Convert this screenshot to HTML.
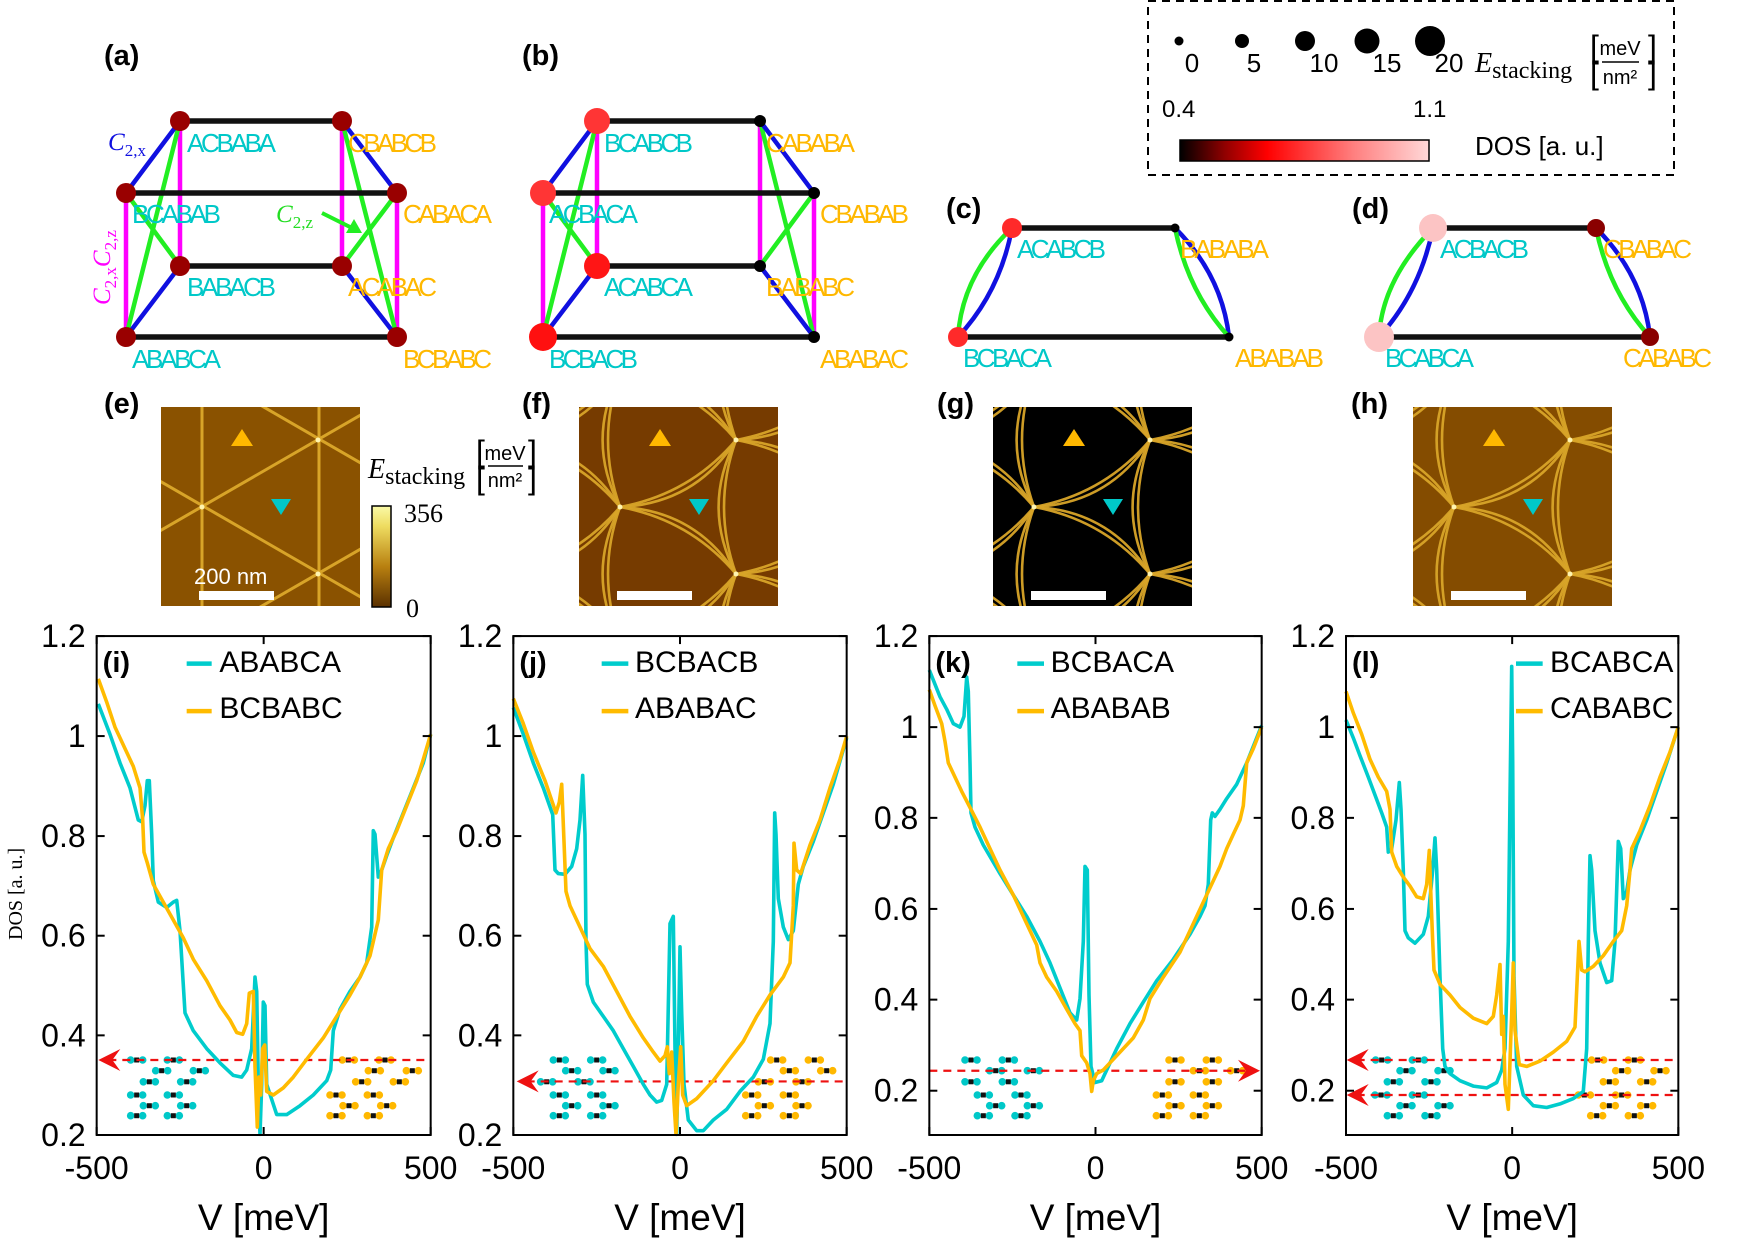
<!DOCTYPE html>
<html><head><meta charset="utf-8"><style>
html,body{margin:0;padding:0;background:#fff;}
svg{display:block;}
text{font-family:"Liberation Sans",sans-serif;}
.lab{font-size:26px;}
.cy{fill:#00c8c8;}
.or{fill:#ffb800;}
.pl{font-weight:bold;font-size:29px;}
.ser{font-family:"Liberation Serif",serif;}
</style></head><body>
<svg id="s" xmlns="http://www.w3.org/2000/svg" width="1750" height="1238" viewBox="0 0 1750 1238">
<defs>
<linearGradient id="gdos" x1="0" x2="1" y1="0" y2="0">
<stop offset="0" stop-color="#000"/><stop offset="0.18" stop-color="#900000"/><stop offset="0.35" stop-color="#ff0000"/><stop offset="0.7" stop-color="#ff8080"/><stop offset="1" stop-color="#ffd8d8"/></linearGradient>
<linearGradient id="gst" x1="0" x2="0" y1="1" y2="0">
<stop offset="0" stop-color="#5a3000"/><stop offset="0.4" stop-color="#b88010"/><stop offset="0.8" stop-color="#eedc60"/><stop offset="1" stop-color="#fafaa8"/></linearGradient>
</defs>
<g id="top" stroke-linecap="round">
<g stroke-width="4.5">
<line x1="180" y1="121" x2="180" y2="266" stroke="#ff00ff"/><line x1="126" y1="193" x2="126" y2="337" stroke="#ff00ff"/>
<line x1="342" y1="121" x2="342" y2="266" stroke="#ff00ff"/><line x1="397" y1="193" x2="397" y2="337" stroke="#ff00ff"/>
<line x1="180" y1="121" x2="126" y2="337" stroke="#22ee22"/><line x1="126" y1="193" x2="180" y2="266" stroke="#22ee22"/>
<line x1="342" y1="121" x2="397" y2="337" stroke="#22ee22"/><line x1="397" y1="193" x2="342" y2="266" stroke="#22ee22"/>
<line x1="126" y1="193" x2="180" y2="121" stroke="#1010e0"/><line x1="126" y1="337" x2="180" y2="266" stroke="#1010e0"/>
<line x1="342" y1="121" x2="397" y2="193" stroke="#1010e0"/><line x1="342" y1="266" x2="397" y2="337" stroke="#1010e0"/>
<g stroke="#111" stroke-width="5.5"><line x1="180" y1="121" x2="342" y2="121"/><line x1="126" y1="193" x2="397" y2="193"/><line x1="180" y1="266" x2="342" y2="266"/><line x1="126" y1="337" x2="397" y2="337"/></g>
</g>
<g fill="#990000"><circle cx="180" cy="121" r="10"/><circle cx="342" cy="121" r="10"/><circle cx="126" cy="193" r="10"/><circle cx="397" cy="193" r="10"/><circle cx="180" cy="266" r="10"/><circle cx="342" cy="266" r="10"/><circle cx="126" cy="337" r="10"/><circle cx="397" cy="337" r="10"/></g>
<g stroke-width="4.5">
<line x1="597" y1="121" x2="597" y2="266" stroke="#ff00ff"/><line x1="543" y1="193" x2="543" y2="337" stroke="#ff00ff"/>
<line x1="760" y1="121" x2="760" y2="266" stroke="#ff00ff"/><line x1="814" y1="193" x2="814" y2="337" stroke="#ff00ff"/>
<line x1="597" y1="121" x2="543" y2="337" stroke="#22ee22"/><line x1="543" y1="193" x2="597" y2="266" stroke="#22ee22"/>
<line x1="760" y1="121" x2="814" y2="337" stroke="#22ee22"/><line x1="814" y1="193" x2="760" y2="266" stroke="#22ee22"/>
<line x1="543" y1="193" x2="597" y2="121" stroke="#1010e0"/><line x1="543" y1="337" x2="597" y2="266" stroke="#1010e0"/>
<line x1="760" y1="121" x2="814" y2="193" stroke="#1010e0"/><line x1="760" y1="266" x2="814" y2="337" stroke="#1010e0"/>
<g stroke="#111" stroke-width="5.5"><line x1="597" y1="121" x2="760" y2="121"/><line x1="543" y1="193" x2="814" y2="193"/><line x1="597" y1="266" x2="760" y2="266"/><line x1="543" y1="337" x2="814" y2="337"/></g>
</g>
<circle cx="597" cy="121" r="13" fill="#ff3535"/><circle cx="543" cy="193" r="13" fill="#ff3535"/><circle cx="597" cy="266" r="13" fill="#ff1515"/><circle cx="543" cy="337" r="14" fill="#ff1010"/>
<g fill="#000"><circle cx="760" cy="121" r="6"/><circle cx="814" cy="193" r="6"/><circle cx="760" cy="266" r="6"/><circle cx="814" cy="337" r="6"/></g>
<g fill="none" stroke-width="4.5">
<path d="M1012 228 Q962 275 958 337" stroke="#22ee22"/><path d="M1012 228 Q1000 292 958 337" stroke="#1010e0"/>
<path d="M1175 228 Q1222 275 1229 337" stroke="#1010e0"/><path d="M1175 228 Q1188 292 1229 337" stroke="#22ee22"/>
<line x1="1012" y1="228" x2="1175" y2="228" stroke="#111" stroke-width="5.5"/><line x1="958" y1="337" x2="1229" y2="337" stroke="#111" stroke-width="5.5"/>
<path d="M1433 228 Q1382 280 1379 337" stroke="#22ee22"/><path d="M1433 228 Q1420 292 1379 337" stroke="#1010e0"/>
<path d="M1596 228 Q1643 275 1650 337" stroke="#1010e0"/><path d="M1596 228 Q1609 292 1650 337" stroke="#22ee22"/>
<line x1="1433" y1="228" x2="1596" y2="228" stroke="#111" stroke-width="5.5"/><line x1="1379" y1="337" x2="1650" y2="337" stroke="#111" stroke-width="5.5"/>
</g>
<circle cx="1012" cy="228" r="10" fill="#ff2a2a"/><circle cx="958" cy="337" r="10" fill="#ff2a2a"/><circle cx="1175" cy="228" r="4.5" fill="#000"/><circle cx="1229" cy="337" r="4.5" fill="#000"/>
<circle cx="1433" cy="228" r="14" fill="#fcc4c4"/><circle cx="1379" cy="337" r="15" fill="#fcc4c4"/><circle cx="1596" cy="228" r="9" fill="#8a0000"/><circle cx="1650" cy="337" r="9" fill="#8a0000"/>
</g>
<g class="lab">
<text class="cy" x="187" y="152" textLength="89">ACBABA</text><text class="cy" x="132" y="223" textLength="89">BCABAB</text>
<text class="cy" x="187" y="296" textLength="89">BABACB</text><text class="cy" x="132" y="368" textLength="89">ABABCA</text>
<text class="or" x="348" y="152" textLength="89">CBABCB</text><text class="or" x="403" y="223" textLength="89">CABACA</text>
<text class="or" x="348" y="296" textLength="89">ACABAC</text><text class="or" x="403" y="368" textLength="89">BCBABC</text>
<text class="cy" x="604" y="152" textLength="89">BCABCB</text><text class="cy" x="549" y="223" textLength="89">ACBACA</text>
<text class="cy" x="604" y="296" textLength="89">ACABCA</text><text class="cy" x="549" y="368" textLength="89">BCBACB</text>
<text class="or" x="766" y="152" textLength="89">CABABA</text><text class="or" x="820" y="223" textLength="89">CBABAB</text>
<text class="or" x="766" y="296" textLength="89">BABABC</text><text class="or" x="820" y="368" textLength="89">ABABAC</text>
<text class="cy" x="1017" y="258" textLength="89">ACABCB</text><text class="or" x="1180" y="258" textLength="89">BABABA</text>
<text class="cy" x="963" y="367" textLength="89">BCBACA</text><text class="or" x="1235" y="367" textLength="89">ABABAB</text>
<text class="cy" x="1440" y="258" textLength="89">ACBACB</text><text class="or" x="1603" y="258" textLength="89">CBABAC</text>
<text class="cy" x="1385" y="367" textLength="89">BCABCA</text><text class="or" x="1623" y="367" textLength="89">CABABC</text>
</g>
<g class="pl">
<text x="104" y="65">(a)</text><text x="522" y="65">(b)</text><text x="946" y="218">(c)</text><text x="1352" y="218">(d)</text>
<text x="104" y="413">(e)</text><text x="522" y="413">(f)</text><text x="937" y="413">(g)</text><text x="1351" y="413">(h)</text>
</g>
<text class="ser" x="108" y="150" font-size="25" font-style="italic" fill="#1010e0">C<tspan font-size="17" font-style="normal" dy="6">2,x</tspan></text>
<text class="ser" x="276" y="222" font-size="25" font-style="italic" fill="#22dd22">C<tspan font-size="17" font-style="normal" dy="6">2,z</tspan></text>
<line x1="322" y1="213" x2="352" y2="228" stroke="#22ee22" stroke-width="4"/><polygon points="362,233 346,233 354,219" fill="#22ee22"/>
<text class="ser" transform="translate(110,305) rotate(-90)" font-size="25" font-style="italic" fill="#ff00ff">C<tspan font-size="17" font-style="normal" dy="6">2,x</tspan><tspan dy="-6">C</tspan><tspan font-size="17" font-style="normal" dy="6">2,z</tspan></text>
<rect x="1148" y="1" width="526" height="174" fill="none" stroke="#000" stroke-width="2" stroke-dasharray="8,6"/>
<g fill="#000"><circle cx="1179" cy="41" r="4.5"/><circle cx="1242" cy="41" r="7"/><circle cx="1305" cy="41" r="10"/><circle cx="1367" cy="41" r="12.5"/><circle cx="1430" cy="41" r="15"/></g>
<g class="ser" font-size="26" text-anchor="middle"><text x="1192" y="72">0</text><text x="1254" y="72">5</text><text x="1324" y="72">10</text><text x="1387" y="72">15</text><text x="1449" y="72">20</text></g>
<text class="ser" x="1475" y="72" font-size="28" font-style="italic">E<tspan font-size="24" font-style="normal" dy="6">stacking</tspan></text>
<g class="ser"><text x="1590" y="58" font-size="32">[</text><text x="1648" y="58" font-size="32">]</text><text x="1620" y="55" font-size="20" text-anchor="middle">meV</text><line x1="1602" y1="62" x2="1639" y2="62" stroke="#000" stroke-width="1.5"/><text x="1620" y="84" font-size="20" text-anchor="middle">nm²</text><text x="1590" y="84" font-size="32">[</text><text x="1648" y="84" font-size="32">]</text></g>
<g class="ser" font-size="24"><text x="1162" y="117">0.4</text><text x="1413" y="117">1.1</text><text x="1475" y="155" font-size="26">DOS [a. u.]</text></g>
<rect x="1180" y="140" width="249" height="21" fill="url(#gdos)" stroke="#000" stroke-width="1.5"/>
<g id="imgs"></g>
<rect x="372" y="506" width="19" height="101" fill="url(#gst)" stroke="#000" stroke-width="1.5"/>
<text class="ser" x="404" y="522" font-size="26">356</text><text class="ser" x="406" y="617" font-size="26">0</text>
<text class="ser" x="368" y="478" font-size="28" font-style="italic">E<tspan font-size="24" font-style="normal" dy="6">stacking</tspan></text>
<g class="ser"><text x="476" y="463" font-size="32">[</text><text x="528" y="463" font-size="32">]</text><text x="505" y="460" font-size="20" text-anchor="middle">meV</text><line x1="488" y1="466" x2="523" y2="466" stroke="#000" stroke-width="1.5"/><text x="505" y="487" font-size="20" text-anchor="middle">nm²</text><text x="476" y="489" font-size="32">[</text><text x="528" y="489" font-size="32">]</text></g>
<g id="plots"></g>
<text class="ser" transform="translate(22,940) rotate(-90)" font-size="20">DOS [a. u.]</text>
</svg>
<script>
const NS='http://www.w3.org/2000/svg';
function el(t,a,p){const e=document.createElementNS(NS,t);for(const k in a)e.setAttribute(k,a[k]);(p||document.getElementById('s')).appendChild(e);return e;}
const imgs=document.getElementById('imgs');
const IM=[{x:161,bg:'#8a5200',t:'s'},{x:579,bg:'#763b00',t:'c'},{x:993,bg:'#000',t:'c'},{x:1413,bg:'#844c00',t:'c'}];
IM.forEach((m,idx)=>{
 const g=el('g',{transform:`translate(${m.x},407)`},imgs);
 const cid='clip'+idx;const cp=el('clipPath',{id:cid},g);el('rect',{x:0,y:0,width:199,height:199},cp);
 const gg=el('g',{'clip-path':`url(#${cid})`},g);
 el('rect',{x:0,y:0,width:199,height:199,fill:m.bg},gg);
 const lc='#d8a428';
 const nodes=[];
 for(let i=-2;i<=3;i++)for(let j=-2;j<=3;j++){nodes.push([41+116*i,100+134*j-67*i]);}
 if(m.t==='s'){
  [41,158].forEach(x=>el('line',{x1:x,y1:-10,x2:x,y2:210,stroke:lc,'stroke-width':3},gg));
  for(let k=-3;k<=3;k++){
   const y0=99+134*k;
   el('line',{x1:-50,y1:y0+0.577*(-50-42),x2:250,y2:y0+0.577*(250-42),stroke:lc,'stroke-width':3},gg);
   el('line',{x1:-50,y1:y0-0.577*(-50-42),x2:250,y2:y0-0.577*(250-42),stroke:lc,'stroke-width':3},gg);
  }
 } else {
  nodes.forEach(L=>{
   const A=[L[0]+116,L[1]-67],B=[L[0]+116,L[1]+67];
   const C=[(L[0]+A[0]+B[0])/3,(L[1]+A[1]+B[1])/3];
   [[L,A],[A,B],[B,L]].forEach(([P,Q])=>{
    const M=[(P[0]+Q[0])/2,(P[1]+Q[1])/2];
    [0.62,0.9].forEach(f=>{
     const c=[M[0]+f*(C[0]-M[0]),M[1]+f*(C[1]-M[1])];
     el('path',{d:`M${P[0]} ${P[1]} Q${c[0]} ${c[1]} ${Q[0]} ${Q[1]}`,fill:'none',stroke:lc,'stroke-width':2.6,opacity:0.95},gg);
    });
   });
  });
 }
 nodes.forEach(n=>el('circle',{cx:n[0],cy:n[1],r:2.5,fill:'#fff4b0'},gg));
 el('polygon',{points:'70,39 81,22 92,39',fill:'#ffb800'},gg);
 el('polygon',{points:'110,92 130,92 120,108',fill:'#00c8c8'},gg);
 el('rect',{x:38,y:184,width:75,height:9,fill:'#fff'},gg);
 if(idx===0){const t=el('text',{x:33,y:177,'font-size':22,fill:'#fff'},gg);t.textContent='200 nm';}
});
const P=document.getElementById('plots');
const OY=620, YS=2.8;
const plots=[
{ox:60,a0:110,a1:1112,tk:[45,325,605,884,1163,1442],tl:['1.2','1','0.8','0.6','0.4','0.2'],lab:'(i)',names:['ABABCA','BCBABC'],lx:[380,455,478],
cy:[[115,235],[150,320],[180,400],[210,470],[235,560],[245,565],[255,520],[262,450],[268,450],[275,600],[280,730],[295,790],[320,805],[340,790],[350,785],[360,870],[375,1100],[400,1150],[440,1200],[480,1240],[520,1275],[545,1280],[560,1260],[575,1200],[585,1000],[590,1040],[595,1300],[600,1440],[605,1300],[610,1070],[615,1080],[620,1300],[650,1385],[680,1385],[720,1360],[760,1330],[800,1290],[812,1260],[820,1150],[840,1090],[870,1040],[900,1000],[920,960],[935,860],[940,590],[945,600],[955,720],[965,700],[980,660],[1000,610],[1030,540],[1060,470],[1090,400],[1112,320]],
or:[[115,165],[140,230],[165,300],[195,360],[220,410],[240,470],[248,560],[252,650],[262,680],[280,740],[310,790],[340,840],[370,890],[400,950],[440,1010],[480,1080],[510,1120],[530,1155],[548,1160],[560,1130],[568,1045],[580,1040],[585,1250],[592,1420],[597,1280],[602,1330],[608,1200],[614,1190],[620,1320],[640,1330],[670,1310],[700,1280],[740,1230],[790,1170],[830,1110],[870,1050],[900,1000],[930,940],[955,840],[965,700],[985,640],[1010,590],[1040,520],[1070,450],[1090,390],[1112,320]],
dash:[[1232,115,1105,-1]],
mc:[[1232,[230,340]],[1262,[305,418]],[1293,[268,380]],[1330,[230,340]],[1360,[268,380]],[1388,[230,340]]],
mo:[[1232,[865,975]],[1262,[943,1057]],[1293,[905,1018]],[1330,[828,940]],[1360,[867,980]],[1388,[828,940]]]},
{ox:480,a0:100,a1:1100,tk:[45,325,605,884,1163,1442],tl:['1.2','1','0.8','0.6','0.4','0.2'],lab:'(j)',names:['BCBACB','ABABAC'],lx:[365,445,465],
cy:[[100,245],[130,320],[160,400],[190,470],[218,545],[225,700],[235,710],[255,712],[275,690],[290,640],[300,560],[308,435],[315,600],[318,900],[322,1020],[340,1070],[370,1110],[400,1150],[430,1200],[460,1250],[490,1300],[510,1330],[530,1350],[545,1345],[560,1300],[570,850],[580,830],[585,1200],[590,1440],[595,1200],[600,915],[605,1100],[612,1300],[625,1400],[650,1430],[670,1430],[700,1400],[740,1370],[780,1320],[820,1280],[850,1230],[870,1130],[880,900],[884,540],[888,600],[895,780],[910,860],[925,895],[940,870],[955,740],[970,690],[1000,620],[1030,540],[1060,460],[1100,330]],
or:[[100,220],[130,290],[160,370],[195,450],[228,540],[238,510],[245,460],[252,620],[258,760],[270,800],[300,860],[330,920],[370,970],[410,1040],[450,1110],[490,1170],[520,1210],[540,1235],[555,1220],[562,1195],[568,1270],[575,1210],[582,1350],[588,1440],[595,1300],[602,1195],[608,1330],[620,1360],[650,1340],[700,1290],[740,1240],[790,1180],[830,1110],[870,1050],[910,1000],[930,960],[940,800],[942,625],[950,700],[962,710],[990,630],[1020,560],[1050,470],[1080,390],[1100,325]],
dash:[[1292,110,1100,-1]],
mc:[[1232,[238,350]],[1262,[275,387]],[1293,[200,312]],[1330,[238,350]],[1360,[275,387]],[1388,[238,350]]],
mo:[[1232,[890,1003]],[1262,[928,1040]],[1293,[853,966]],[1330,[815,928]],[1360,[853,966]],[1388,[815,928]]]},
{ox:900,a0:88,a1:1085,tk:[45,300,554,809,1063,1318],tl:['1.2','1','0.8','0.6','0.4','0.2'],lab:'(k)',names:['BCBACA','ABABAB'],lx:[352,432,452],
cy:[[88,140],[105,180],[120,215],[140,250],[160,290],[180,300],[192,270],[200,160],[205,200],[210,400],[213,540],[225,580],[250,630],[300,710],[340,770],[380,830],[420,900],[450,960],[480,1030],[510,1100],[530,1120],[540,1060],[550,900],[555,690],[562,700],[567,1050],[573,1250],[585,1295],[605,1290],[620,1260],[650,1200],[690,1130],[730,1070],[770,1010],[820,950],[870,880],[900,830],[915,800],[925,740],[932,560],[937,540],[945,550],[960,530],[980,500],[1010,460],[1040,400],[1070,330],[1085,295]],
or:[[88,195],[105,240],[125,290],[135,340],[145,400],[165,440],[185,480],[210,525],[240,580],[270,640],[300,700],[340,770],[380,850],[410,910],[420,960],[440,1000],[470,1040],[500,1090],[525,1130],[540,1150],[545,1220],[560,1240],[570,1270],[575,1320],[580,1290],[590,1270],[610,1260],[650,1220],[700,1170],[730,1120],[750,1060],[790,1000],[840,930],[880,850],[910,790],[940,730],[960,690],[980,640],[1000,600],[1020,560],[1030,520],[1040,400],[1060,360],[1085,300]],
dash:[[1262,88,1080,1]],
mc:[[1232,[213,325]],[1262,[287,400]],[1293,[213,325]],[1330,[250,363]],[1360,[287,400]],[1388,[250,363]]],
mo:[[1232,[825,937]],[1262,[898,1010]],[1293,[825,937]],[1330,[787,898]],[1360,[825,937]],[1388,[787,898]]]},
{ox:1320,a0:78,a1:1075,tk:[45,300,554,809,1063,1318],tl:['1.2','1','0.8','0.6','0.4','0.2'],lab:'(l)',names:['BCABCA','CABABC'],lx:[588,668,690],
cy:[[78,280],[100,330],[120,380],[145,440],[165,490],[185,540],[200,580],[205,650],[215,640],[228,560],[238,455],[243,530],[250,700],[255,870],[265,890],[285,905],[310,880],[325,830],[338,700],[345,610],[350,700],[360,1000],[368,1200],[375,1250],[390,1270],[420,1290],[460,1305],[500,1310],[530,1295],[545,1260],[555,1200],[565,900],[570,500],[575,130],[578,400],[582,1000],[590,1250],[610,1330],[640,1360],[680,1365],[720,1355],[760,1340],[790,1320],[800,1200],[805,900],[810,660],[815,700],[825,870],[840,960],[860,1015],[875,1010],[885,900],[895,620],[902,640],[910,780],[920,760],[930,700],[950,630],[980,560],[1010,480],[1040,400],[1075,300]],
or:[[78,200],[100,260],[125,320],[150,390],[175,440],[200,480],[210,530],[215,650],[230,690],[250,720],[270,745],[290,775],[310,780],[320,740],[328,645],[333,780],[338,900],[342,980],[360,1020],[390,1050],[420,1085],[460,1115],[500,1130],[520,1110],[530,1050],[540,965],[545,1160],[550,1110],[555,1300],[565,1370],[575,1100],[580,960],[585,1150],[598,1245],[620,1250],[660,1235],[700,1210],[740,1180],[765,1140],[772,1000],[777,900],[785,980],[795,985],[820,970],[850,940],[880,900],[905,870],[920,800],[930,700],[935,640],[960,590],[990,520],[1020,440],[1050,370],[1075,300]],
dash:[[1232,80,1070,-1],[1330,80,1070,-1]],
mc:[[1232,[185,295]],[1262,[258,372]],[1293,[220,333]],[1330,[183,295]],[1360,[258,372]],[1388,[220,333]]],
mo:[[1232,[833,943]],[1262,[905,1020]],[1293,[868,980]],[1330,[793,905]],[1360,[868,980]],[1388,[830,943]]]}
];
plots.forEach(p=>{
 const X=z=>p.ox+z/3, Y=z=>OY+z/YS;
 const g=el('g',{},P);
 const x0=X(p.a0),x1=X(p.a1),y0=Y(45),y1=Y(1442),xm=(x0+x1)/2;
 const mol=(arr,col)=>arr.forEach(([zy,xs])=>xs.forEach(zx=>{const cx=X(zx),cy=Y(zy);
  el('circle',{cx:cx-6,cy:cy,r:3.8,fill:col},g);el('circle',{cx:cx+6,cy:cy,r:3.8,fill:col},g);
  el('rect',{x:cx-2.5,y:cy-2.5,width:5,height:5,fill:'#111'},g);}));
 mol(p.mc,'#00c8c8');mol(p.mo,'#ffb800');
 p.dash.forEach(([zy,za,zb,dir])=>{const y=Y(zy);
  if(dir<0){el('line',{x1:X(za)+10,y1:y,x2:X(zb),y2:y,stroke:'#ee1111','stroke-width':2.2,'stroke-dasharray':'8,6'},g);
   const t=X(za);el('polygon',{points:`${t},${y} ${t+22},${y-11} ${t+14},${y} ${t+22},${y+11}`,fill:'#ee1111'},g);}
  else{el('line',{x1:X(za),y1:y,x2:X(zb)-10,y2:y,stroke:'#ee1111','stroke-width':2.2,'stroke-dasharray':'8,6'},g);
   const t=X(zb);el('polygon',{points:`${t},${y} ${t-22},${y-11} ${t-14},${y} ${t-22},${y+11}`,fill:'#ee1111'},g);}
 });
 const path=(pts,col)=>el('path',{d:'M'+pts.map(q=>X(q[0]).toFixed(1)+' '+Y(q[1]).toFixed(1)).join(' L'),fill:'none',stroke:col,'stroke-width':3.6,'stroke-linejoin':'round'},g);
 path(p.cy,'#00cccc');path(p.or,'#ffbb00');
 el('rect',{x:x0,y:y0,width:x1-x0,height:y1-y0,fill:'none',stroke:'#000','stroke-width':2},g);
 p.tk.forEach((zt,i)=>{const y=Y(zt);
  el('line',{x1:x0,y1:y,x2:x0+8,y2:y,stroke:'#000','stroke-width':2},g);el('line',{x1:x1,y1:y,x2:x1-8,y2:y,stroke:'#000','stroke-width':2},g);
  const t=el('text',{x:x0-11,y:y+11,'font-size':32,'text-anchor':'end'},g);t.textContent=p.tl[i];});
 [x0,xm,x1].forEach((x,i)=>{el('line',{x1:x,y1:y0,x2:x,y2:y0+8,stroke:'#000','stroke-width':2},g);el('line',{x1:x,y1:y1,x2:x,y2:y1-8,stroke:'#000','stroke-width':2},g);
  const t=el('text',{x:x,y:1179,'font-size':32,'text-anchor':'middle'},g);t.textContent=['-500','0','500'][i];});
 const vt=el('text',{x:xm,y:1230,'font-size':37,'text-anchor':'middle'},g);vt.textContent='V [meV]';
 [['#00cccc',122,145],['#ffbb00',255,275]].forEach(([c,ly,ty],i)=>{
  el('line',{x1:X(p.lx[0]),y1:Y(ly),x2:X(p.lx[1]),y2:Y(ly),stroke:c,'stroke-width':4.5},g);
  const t=el('text',{x:X(p.lx[2]),y:Y(ty),'font-size':30},g);t.textContent=p.names[i];});
 const lt=el('text',{x:X(p.a0)+6,y:Y(145),'font-size':29,'font-weight':'bold'},g);lt.textContent=p.lab;
});
</script>
</body></html>
